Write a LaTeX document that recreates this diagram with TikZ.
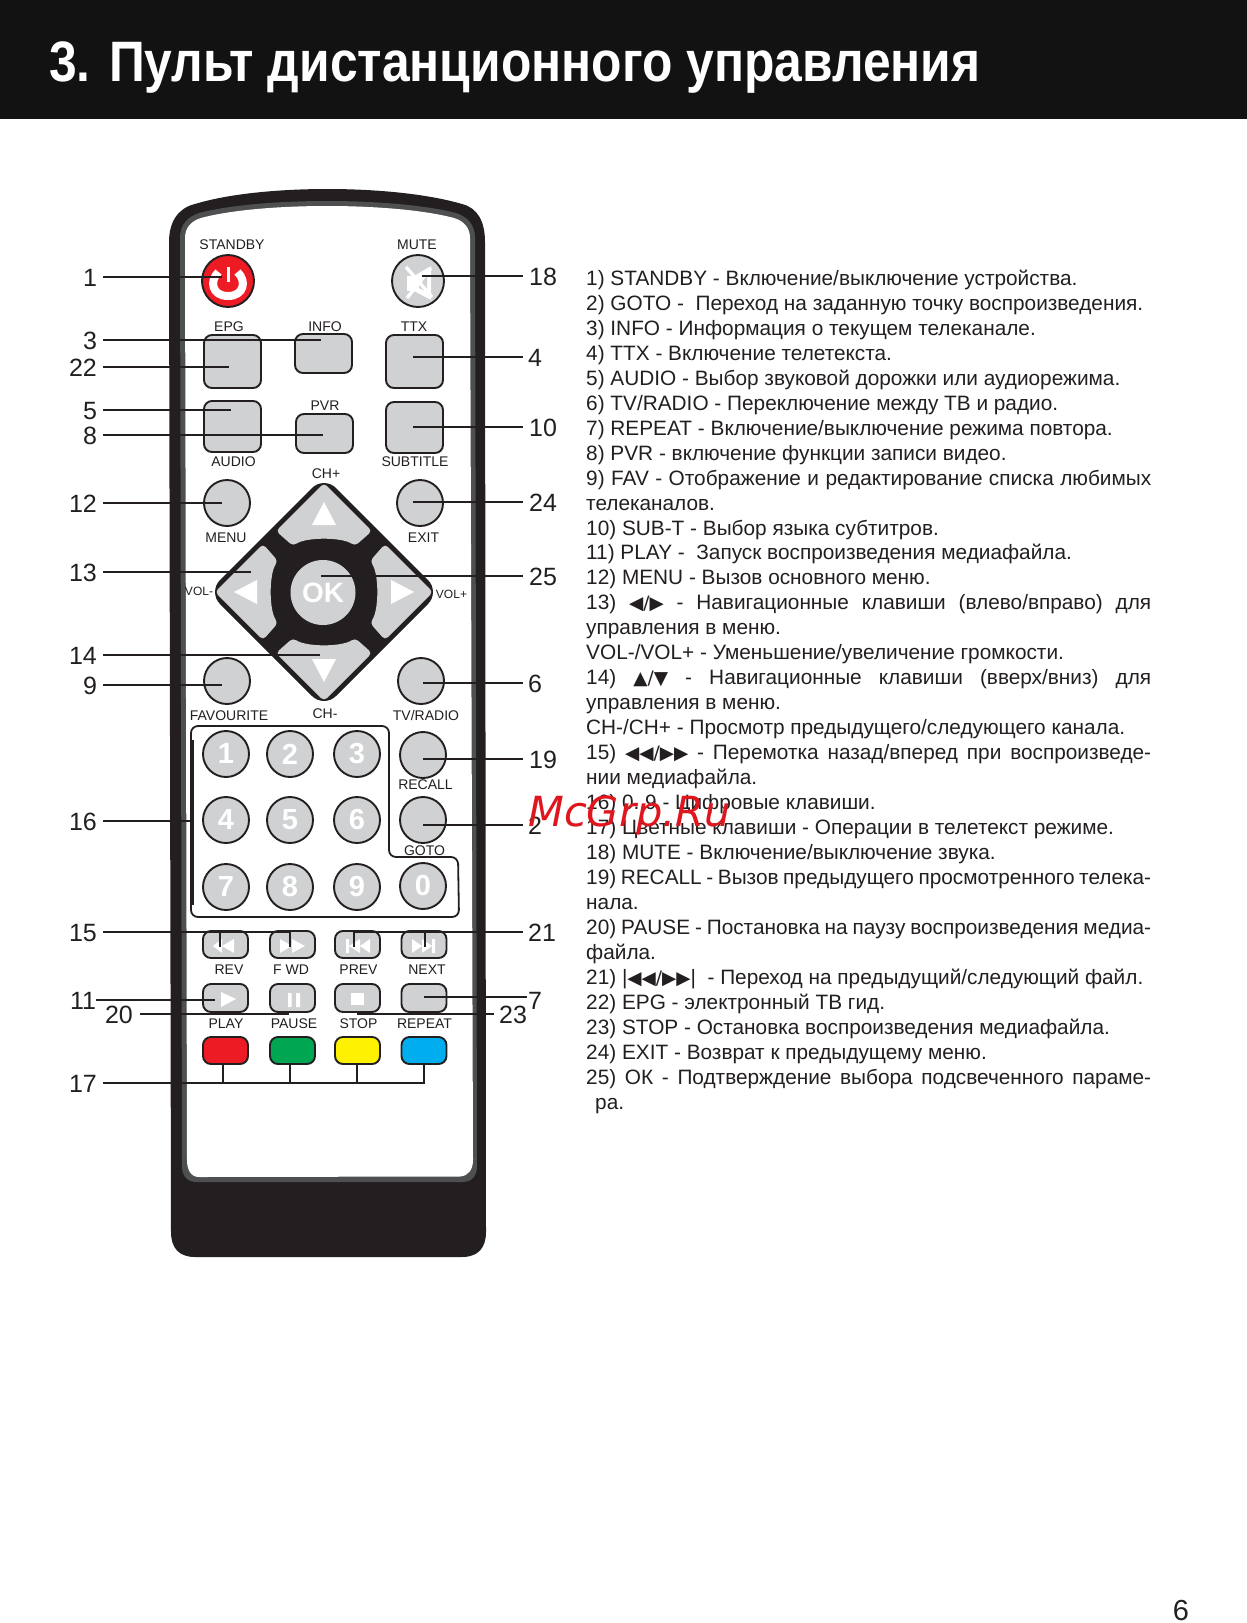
\documentclass[tikz,border=0pt]{standalone}
\usepackage{fontspec}
\setmainfont{Liberation Sans}
\newfontfamily\symf{DejaVu Sans}
\newfontfamily\wmf{DejaVu Sans}
\definecolor{ink}{HTML}{231F20}
\definecolor{rim}{HTML}{4E4F51}
\definecolor{key}{HTML}{D0D1D2}
\definecolor{kred}{HTML}{ED1C24}
\definecolor{kgreen}{HTML}{00A651}
\definecolor{kyellow}{HTML}{FFF200}
\definecolor{kblue}{HTML}{00AEEF}
\definecolor{wm}{HTML}{E0161E}
\tikzset{
 lead/.style={draw=ink,line width=2.4pt},
 num/.style={inner sep=0pt,text=ink,text height=18pt,text depth=0pt,font=\fontsize{25}{25}\selectfont},
 lab/.style={inner sep=0pt,text=ink,text height=10pt,text depth=0pt,font=\fontsize{14}{14}\selectfont},
 txt/.style={anchor=base west,inner sep=0pt,text=ink,font=\fontsize{20.8}{24}\selectfont},
 rkey/.style={draw=ink,line width=1.9pt,fill=key,rounded corners=8pt,inner sep=0pt,minimum width=#1},
 rkey/.default=57pt,
 ckey/.style={draw=ink,line width=1.9pt,fill=key,circle,inner sep=0pt,minimum size=#1,text=white,font=\fontsize{29}{29}\selectfont\bfseries},
 ckey/.default=46pt,
 glyph/.style={fill=white,draw=none}
}
\newcommand{\leadline}[6]{%
 \node[num] (n#1) at (#3,#4) {#2};
 \coordinate (a#1) at (#5,#4);
 \coordinate (b#1) at (#6,#4);
 \draw[lead] (a#1) -- (b#1);}
\newcommand{\tl}[2]{%
 \pgfmathsetmacro{\yy}{285.4+24.96*#1}
 \node[txt] (t#1) at (586,\yy) {#2};}
\newcommand{\jl}[2]{\tl{#1}{\makebox[565pt][s]{#2}}}
\newcommand{\sm}[1]{{\symf\fontsize{18.5}{18.5}\selectfont #1}}
\begin{document}
\begin{tikzpicture}[x=1pt,y=-1pt]
\useasboundingbox (0,0) rectangle (1247,1623);
\fill[white] (0,0) rectangle (1247,1623);
\fill[black!93] (0,0) rectangle (1247,119);
\node[anchor=base west,inner sep=0pt,text=white,font=\fontsize{57}{57}\selectfont\bfseries] (title) at (49,81) {\scalebox{0.873}[1]{3. Пульт дистанционного управления}};

% body
\fill[ink] (169,242) .. controls (169,222) and (178,208) .. (195,204) .. controls (260,184) and (394,184) .. (462,204) .. controls (478,208) and (485,222) .. (485,242) -- (486,1232) .. controls (486,1248) and (478,1257) .. (462,1257) -- (195,1257) .. controls (179,1257) and (171,1248) .. (171,1232) -- cycle;
\fill[rim] (180,238) .. controls (180,225) and (187,217) .. (199,213) .. controls (260,197) and (394,197) .. (456,213) .. controls (468,217) and (475,225) .. (475,238) -- (477,1166) .. controls (477,1176) and (472,1182) .. (462,1182) -- (197,1182) .. controls (187,1182) and (182,1176) .. (182,1166) -- cycle;
\fill[white] (185,238) .. controls (185,228) and (191,221) .. (201,218) .. controls (260,202) and (394,202) .. (454,218) .. controls (464,221) and (470,228) .. (470,238) -- (473,1160) .. controls (473,1170) and (468,1176) .. (460,1176.5) -- (199,1177) .. controls (191,1177) and (187,1170) .. (187,1160) -- cycle;

% top keys
\node[ckey=52pt,fill=kred] (standby) at (228,281) {};
\draw[white,line width=8pt] (218.5,272) .. controls (209,281) and (212,296) .. (228,296) .. controls (244,296) and (247,281) .. (237.5,272);
\draw[white,line width=3pt] (228,267) -- (228,282);
\node[ckey=52pt] (mute) at (418,281) {};
\fill[white] (407,276) rectangle (416,291);
\fill[white] (414,276) -- (431,266) -- (431,300) -- (414,291) -- cycle;
\fill[key] (419,280) -- (427,276) -- (427,292) -- (419,288) -- cycle;
\draw[white,line width=3.4pt] (406,267) -- (432,297) (431,268) -- (407,298);

\node[rkey,minimum height=53pt] (epg) at (232.5,361.5) {};
\node[rkey,minimum height=39pt] (info) at (323.5,353.5) {};
\node[rkey,minimum height=53pt] (ttx) at (414.5,361.5) {};
\node[rkey,minimum height=51pt] (audio) at (232.5,426.5) {};
\node[rkey,minimum height=39pt] (pvr) at (324.5,433.5) {};
\node[rkey,minimum height=51pt] (subt) at (414.5,427.5) {};

\node[ckey] (menu) at (227,503) {};
\node[ckey] (exit) at (420,503) {};
\node[ckey] (fav) at (227,681) {};
\node[ckey] (tvr) at (421,681) {};

% d-pad
\fill[ink,rounded corners=17pt] (324,476) -- (440,592) -- (324,708) -- (208,592) -- cycle;
\foreach \a in {0,90,180,270}{
 \begin{scope}[shift={(324,592)},rotate=\a]
  \fill[key,rounded corners=4pt] (0,-109) -- (48,-61) -- (31,-46) .. controls (18,-55) and (-18,-55) .. (-31,-46) -- (-48,-61) -- cycle;
  \fill[white] (0,-90) -- (12,-67) -- (-12,-67) -- cycle;
 \end{scope}}
\node[circle,fill=key,inner sep=0pt,minimum size=65pt,text=white,font=\fontsize{28}{28}\selectfont\bfseries] (ok) at (323,592.5) {OK};

% number field
\draw[ink,line width=1.8pt,rounded corners=7pt] (191,726) -- (389,726) -- (389,857) -- (458,857) -- (459,917) -- (191,917) -- cycle;
\draw[ink,line width=2.8pt] (193,740) -- (193,905);
\node[ckey] (k1) at (226,754) {1};
\node[ckey] (k2) at (290,754) {2};
\node[ckey] (k3) at (357,754) {3};
\node[ckey] (k4) at (226,820) {4};
\node[ckey] (k5) at (290,820) {5};
\node[ckey] (k6) at (357,820) {6};
\node[ckey] (k7) at (226,887) {7};
\node[ckey] (k8) at (290,887) {8};
\node[ckey] (k9) at (357,887) {9};
\node[ckey] (k0) at (423,886) {0};
\node[ckey] (recall) at (423,755) {};
\node[ckey] (goto) at (423,820) {};

% transport keys
\foreach \n/\x in {rev/225.5,fwd/292.5,prev/357.5,next/424}{
 \node[rkey=45pt,minimum height=27pt] (\n) at (\x,944.5) {};}
\foreach \n/\x in {play/225.5,pause/292.5,stop/357.5,rept/424}{
 \node[rkey=45pt,minimum height=28pt] (\n) at (\x,998) {};}
\node[rkey=45pt,minimum height=27pt,fill=kred] (cr) at (225.5,1050.5) {};
\node[rkey=45pt,minimum height=27pt,fill=kgreen] (cg) at (292.5,1050.5) {};
\node[rkey=45pt,minimum height=27pt,fill=kyellow] (cy) at (357.5,1050.5) {};
\node[rkey=45pt,minimum height=27pt,fill=kblue] (cb) at (424,1050.5) {};
% key glyphs
\fill[glyph] (213,946) -- (222,939) -- (222,953) -- cycle (222,946) -- (234,939) -- (234,953) -- cycle;
\fill[glyph] (280,939) -- (292,946) -- (280,953) -- cycle (292,939) -- (305,946) -- (292,953) -- cycle;
\fill[glyph] (346,939) rectangle (349,953) (349,946) -- (360,939) -- (360,953) -- cycle (360,946) -- (370,939) -- (370,953) -- cycle;
\fill[glyph] (412,939) -- (422,946) -- (412,953) -- cycle (422,939) -- (432,946) -- (422,953) -- cycle (432,939) rectangle (435,953);
\fill[glyph] (221,992) -- (236,999) -- (221,1007) -- cycle;
\fill[glyph] (288,993) rectangle (291.5,1007) (296,993) rectangle (300,1007);
\fill[glyph] (351,993) rectangle (364,1005);

% key labels
\node[lab] (lstandby) at (232,244) {STANDBY};
\node[lab] (lmute) at (417,244) {MUTE};
\node[lab] (lepg) at (229,326) {EPG};
\node[lab] (linfo) at (325,326) {INFO};
\node[lab] (lttx) at (414,326) {TTX};
\node[lab] (lpvr) at (325,405) {PVR};
\node[lab] (laudio) at (233.5,461) {AUDIO};
\node[lab] (lsub) at (415,461) {SUBTITLE};
\node[lab] (lchp) at (326,473) {CH+};
\node[lab] (lmenu) at (226,537) {MENU};
\node[lab] (lexit) at (423.5,537) {EXIT};
\node[lab,font=\fontsize{12}{12}\selectfont] (lvm) at (199,590) {VOL-};
\node[lab,font=\fontsize{12}{12}\selectfont] (lvp) at (451.5,593) {VOL+};
\node[lab] (lchm) at (325,713) {CH-};
\node[lab] (lfav) at (229,715) {FAVOURITE};
\node[lab] (ltvr) at (426,715) {TV/RADIO};
\node[lab] (lrec) at (425.5,784) {RECALL};
\node[lab] (lgoto) at (424.5,850) {GOTO};
\node[lab] (lrev) at (229,969) {REV};
\node[lab] (lfwd) at (291,969) {F WD};
\node[lab] (lprev) at (358.5,969) {PREV};
\node[lab] (lnext) at (427,969) {NEXT};
\node[lab] (lplay) at (226,1023) {PLAY};
\node[lab] (lpause) at (294,1023) {PAUSE};
\node[lab] (lstop) at (358.5,1023) {STOP};
\node[lab] (lrept) at (424.5,1023) {REPEAT};

% connectors
\leadline{A}{1}{90}{277}{103}{222}
\leadline{C}{3}{90}{340}{103}{321}
\leadline{V}{22}{83}{367}{103}{229}
\leadline{E}{5}{90}{410}{103}{231}
\leadline{H}{8}{90}{435}{103}{323}
\leadline{L}{12}{83}{503}{103}{222}
\leadline{M}{13}{83}{572}{103}{251}
\leadline{N}{14}{83}{655}{103}{320}
\leadline{I}{9}{90}{685}{103}{222}
\leadline{P}{16}{83}{821}{103}{193}
\leadline{O}{15}{83}{932}{103}{290}
\leadline{U}{21}{542}{932}{354}{523}
\leadline{R}{18}{543}{276}{422}{523}
\leadline{D}{4}{535}{357}{413}{523}
\leadline{J}{10}{543}{427}{413}{523}
\leadline{X}{24}{543}{502}{413}{523}
\leadline{Y}{25}{543}{576}{321}{523}
\leadline{F}{6}{535}{683}{423}{523}
\leadline{S}{19}{543}{759}{423}{523}
\leadline{B}{2}{535}{825}{423}{523}
\node[num] (nK) at (83,1000) {11};
\coordinate (aK) at (96,1000); \coordinate (bK) at (215,1000);
\draw[lead] (aK) -- (bK);
\leadline{T}{20}{119}{1014}{140}{289}
\leadline{W}{23}{513}{1014}{357}{494}
\node[num] (nG) at (535,1000) {7};
\coordinate (aG) at (424,997); \coordinate (bG) at (527,997);
\draw[lead] (aG) -- (bG);
% ticks
\coordinate (o1) at (220,932); \coordinate (o2) at (220,947);
\coordinate (o3) at (290,932); \coordinate (o4) at (290,947);
\coordinate (u1) at (354,932); \coordinate (u2) at (354,947);
\coordinate (u3) at (425,932); \coordinate (u4) at (425,947);
\draw[lead] (o1) -- (o2) (o3) -- (o4) (u1) -- (u2) (u3) -- (u4);
\leadline{Q}{17}{83}{1083}{103}{425}
\draw[lead] (cr.south) ++(-2.5,0) -- ++(0,19.5) ;
\draw[lead] (cg.south) ++(-2.5,0) -- ++(0,19.5);
\draw[lead] (cy.south) ++(-0.5,0) -- ++(0,19.5);
\draw[lead] (cb.south) -- ++(0,19.5);

% description
\tl{0}{1) STANDBY - Включение/выключение устройства.}
\tl{1}{2) GOTO -\ \ Переход на заданную точку воспроизведения.}
\tl{2}{3) INFO - Информация о текущем телеканале.}
\tl{3}{4) TTX - Включение телетекста.}
\tl{4}{5) AUDIO - Выбор звуковой дорожки или аудиорежима.}
\tl{5}{6) TV/RADIO - Переключение между ТВ и радио.}
\tl{6}{7) REPEAT - Включение/выключение режима повтора.}
\tl{7}{8) PVR - включение функции записи видео.}
\jl{8}{9) FAV - Отображение и редактирование списка любимых}
\tl{9}{телеканалов.}
\tl{10}{10) SUB-T - Выбор языка субтитров.}
\tl{11}{11) PLAY -\ \ Запуск воспроизведения медиафайла.}
\tl{12}{12) MENU - Вызов основного меню.}
\jl{13}{13) \sm{◀/▶} - Навигационные клавиши (влево/вправо) для}
\tl{14}{управления в меню.}
\tl{15}{VOL-/VOL+ - Уменьшение/увеличение громкости.}
\jl{16}{14) \sm{▲/▼} - Навигационные клавиши (вверх/вниз) для}
\tl{17}{управления в меню.}
\tl{18}{CH-/CH+ - Просмотр предыдущего/следующего канала.}
\jl{19}{15) \sm{◀◀/▶▶} - Перемотка назад/вперед при воспроизведе-}
\tl{20}{нии медиафайла.}
\tl{21}{16) 0..9 - Цифровые клавиши.}
\tl{22}{17) Цветные клавиши - Операции в телетекст режиме.}
\tl{23}{18) MUTE - Включение/выключение звука.}
\jl{24}{19) RECALL - Вызов предыдущего просмотренного телека-}
\tl{25}{нала.}
\jl{26}{20) PAUSE - Постановка на паузу воспроизведения медиа-}
\tl{27}{файла.}
\tl{28}{21) |\sm{◀◀/▶▶}|\ \ - Переход на предыдущий/следующий файл.}
\tl{29}{22) EPG - электронный ТВ гид.}
\tl{30}{23) STOP - Остановка воспроизведения медиафайла.}
\tl{31}{24) EXIT - Возврат к предыдущему меню.}
\jl{32}{25) ОК - Подтверждение выбора подсвеченного параме-}
\node[txt] (t33) at (595,1109) {ра.};

\node[anchor=base west,inner sep=0pt,text=wm,font=\wmf\itshape\fontsize{41.5}{41.5}\selectfont] (mark) at (528,826) {McGrp.Ru};
\node[anchor=base,inner sep=0pt,text=ink,font=\fontsize{29}{29}\selectfont] (page) at (1181,1620) {6};
\end{tikzpicture}
\end{document}
